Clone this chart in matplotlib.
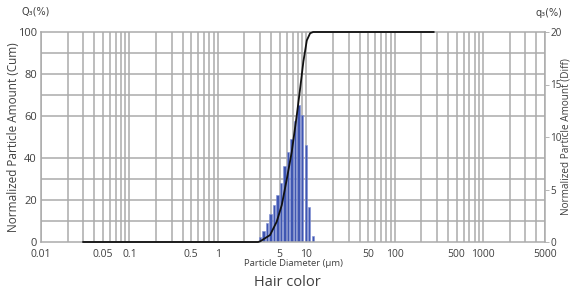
import numpy as np
import matplotlib
matplotlib.use("Agg")
import matplotlib.pyplot as plt
from matplotlib.ticker import FixedLocator, NullFormatter

plt.rcParams['font.family'] = ['Open Sans', 'DejaVu Sans']

# Differential distribution (q3, %) - bin centres in µm
bin_d = [2.99, 3.29, 3.60, 3.95, 4.33, 4.74, 5.20, 5.70, 6.24, 6.84,
         7.49, 8.20, 8.99, 9.85, 10.79, 11.84]
q3 = [0.5, 1.08, 1.84, 2.67, 3.5, 4.5, 5.6, 7.2, 8.6, 9.8,
      11.5, 13.05, 12.1, 9.2, 3.3, 0.6]

# Cumulative distribution (Q3, %)
cum_d = [0.03, 2.85, 3.0, 3.89, 4.63, 5.28, 6.02, 6.85, 7.81, 8.51,
         9.27, 10.13, 11.04, 11.94, 12.5, 275]
cum_v = [0, 0, 0.3, 3.3, 9.7, 17.6, 30, 43, 60.5, 73,
         86, 96, 99.4, 100, 100, 100]

x_ticks = [0.01, 0.05, 0.1, 0.5, 1, 5, 10, 50, 100, 500, 1000, 5000]
x_tick_labels = ["0.01", "0.05", "0.1", "0.5", "1", "5", "10", "50", "100", "500", "1000", "5000"]
left_ticks = [0, 20, 40, 60, 80, 100]
right_ticks = [0, 5, 10, 15, 20]

title = "Hair color"
xlabel = "Particle Diameter (µm)"
ylabel_left = "Normalized Particle Amount (Cum)"
ylabel_right = "Normalized Particle Amount (Diff)"

grid_c = '#ababab'
text_c = '#404040'

fig = plt.figure(figsize=(5.73, 2.99), dpi=100)
ax2 = fig.add_axes([41/573, 57/299, 504/573, 210/299])  # bars (diff)

ax2.set_xscale('log')
ax2.set_xlim(0.01, 5000)
ax2.set_ylim(0, 20)

# vertical grid at every 1..9 x decade
minor_pos = []
for e in range(-2, 4):
    for m in range(1, 10):
        v = m * 10.0 ** e
        if 0.01 <= v <= 5000:
            minor_pos.append(v)
ax2.xaxis.set_major_locator(FixedLocator(x_ticks))
ax2.set_xticklabels(x_tick_labels)
ax2.xaxis.set_minor_locator(FixedLocator(minor_pos))
ax2.xaxis.set_minor_formatter(NullFormatter())
ax2.grid(True, which='both', axis='x', color=grid_c, lw=1.1, zorder=0)

# horizontal grid every 10 % (= 2 diff units)
ax2.yaxis.set_minor_locator(FixedLocator(list(np.arange(0, 21, 2))))
ax2.grid(True, which='minor', axis='y', color=grid_c, lw=1.1, zorder=0)
ax2.set_axisbelow(True)

# bars
w = 0.0397 * 0.7
bd = np.array(bin_d)
lefts = bd * 10 ** (-w / 2)
widths = bd * (10 ** (w / 2) - 10 ** (-w / 2))
ax2.bar(lefts, q3, width=widths, align='edge', color='#3f56b2',
        edgecolor='#8090d4', linewidth=0.4, zorder=2)

# right axis ticks
ax2.yaxis.tick_right()
ax2.yaxis.set_label_position('right')
ax2.set_yticks(right_ticks)
ax2.tick_params(axis='y', which='major', length=3, width=0.6, color=grid_c,
                labelsize=7.2, labelcolor=text_c, pad=1)
ax2.tick_params(axis='y', which='minor', length=0)
ax2.tick_params(axis='x', which='both', length=0, labelsize=7.5,
                labelcolor=text_c, pad=5)
ax2.set_ylabel(ylabel_right, fontsize=7.2, color=text_c, va='center')
ax2.yaxis.set_label_coords(1.0415, 0.5)

for s in ax2.spines.values():
    s.set_color(grid_c)
    s.set_linewidth(1.1)

# left axis (cumulative) - overlay
ax = fig.add_axes(ax2.get_position(), sharex=ax2)
ax.patch.set_visible(False)
ax.set_ylim(0, 100)
ax.set_yticks(left_ticks)
ax.tick_params(axis='y', length=0, labelsize=8, labelcolor=text_c, pad=3)
ax.tick_params(axis='x', which='both', length=0, labelbottom=False)
for s in ax.spines.values():
    s.set_visible(False)
ax.grid(False)
ax.plot(cum_d, cum_v, color='#111111', lw=1.3, clip_on=False, zorder=5)
ax.set_ylabel(ylabel_left, fontsize=8.5, color=text_c, va='center')
ax.yaxis.set_label_coords(-0.055, 0.5)

fig.text(0.5 * (41 + 545) / 573, 1 - 263 / 299, xlabel, ha='center', va='center',
         fontsize=6.8, color=text_c)
fig.text(287 / 573, 1 - 283 / 299, title, ha='center', va='center',
         fontsize=10.5, color=text_c)
fig.text(22 / 573, 1 - 12 / 299, "Q₃(%)", ha='left', va='center',
         fontsize=7, color=text_c, family=['DejaVu Sans'])
fig.text(562 / 573, 1 - 13 / 299, "q₃(%)", ha='right', va='center',
         fontsize=7, color=text_c, family=['DejaVu Sans'])

fig.savefig('out.png', dpi=100)
